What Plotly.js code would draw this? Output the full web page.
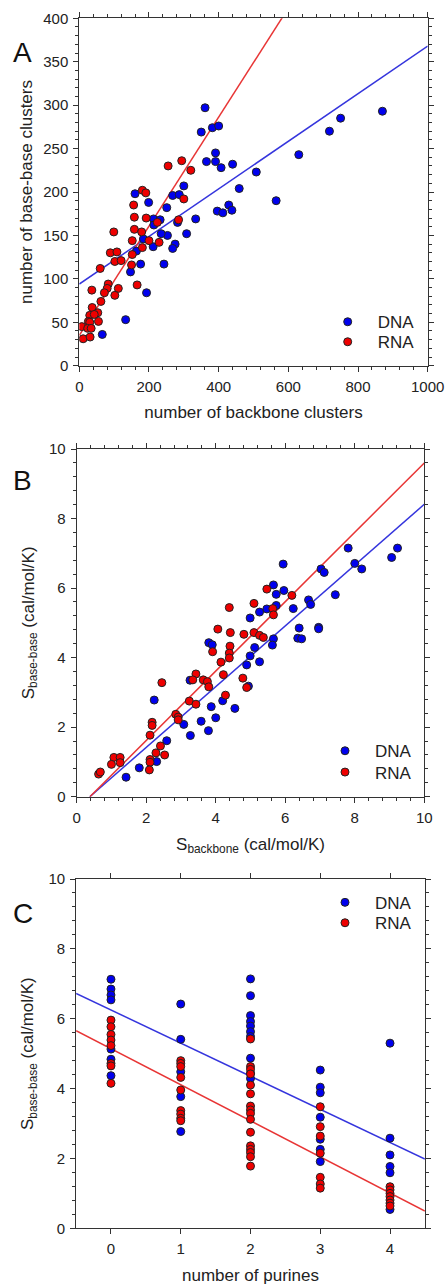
<!DOCTYPE html>
<html><head><meta charset="utf-8">
<script src="https://cdn.plot.ly/plotly-3.0.1.min.js"></script>
<style>html,body{margin:0;padding:0;background:#fff}</style>
</head><body><div id="chart" style="width:447px;height:1285px"></div>
<script>
// ---------- Panel A: number of backbone clusters vs base-base clusters ----------
const dnaA_x = [361,350,382,400,870,718,750,630,391,365,391,407,440,508,459,565,300,160,199,268,287,251,213,232,214,282,334,308,253,235,184,275,268,212,164,176,243,147,193,133,66,396,412,429,438];
const dnaA_y = [297,269,274,276,293,270,285,243,245,235,235,228,232,223,204,190,207,198,188,196,197,182,169,168,162,165,169,152,150,152,146,140,135,137,132,117,117,108,84,53,36,178,176,185,179];
const rnaA_x = [255,294,320,181,191,156,158,192,300,158,179,224,285,152,200,229,99,181,89,108,102,120,152,150,60,166,112,83,80,102,72,36,62,37,30,53,43,55,26,30,7,24,34,11,31];
const rnaA_y = [230,236,225,202,199,185,171,170,192,157,154,165,168,144,144,142,154,136,130,131,120,121,128,116,112,93,89,94,89,81,84,87,74,67,58,61,59,51,51,50,45,43,43,31,33];
const fitA_DNA = [94, 0.274];   // [intercept, slope] of the fitted lines
const fitA_RNA = [35, 0.628];

// ---------- Panel B: S_backbone vs S_base-base ----------
const dnaB_x = [7.81,9.23,9.06,8.0,8.2,5.94,7.03,7.12,5.66,5.96,5.74,7.44,6.67,6.73,5.74,5.47,5.26,6.23,4.99,6.4,6.96,6.96,3.8,3.9,5.66,6.36,6.47,5.63,5.12,4.99,5.26,4.89,4.94,3.26,2.23,4.2,3.87,4.55,4.0,3.58,3.08,3.79,3.27,2.59,2.3,1.8,1.42];
const dnaB_y = [7.15,7.15,6.88,6.71,6.55,6.69,6.55,6.45,6.09,5.93,5.82,5.81,5.66,5.53,5.5,5.4,5.31,5.41,5.14,4.85,4.87,4.83,4.43,4.37,4.54,4.56,4.54,4.36,4.29,4.05,3.88,3.79,3.18,3.35,2.78,2.76,2.59,2.54,2.27,2.17,2.08,1.9,1.76,1.61,1.01,0.83,0.56];
const rnaB_x = [5.47,6.19,5.1,4.39,5.64,5.66,4.06,4.42,4.81,5.1,5.26,5.37,4.41,4.39,4.39,3.91,4.15,4.22,3.43,3.64,3.76,3.8,3.34,4.78,4.89,4.28,3.24,3.43,2.45,2.85,2.92,2.92,2.17,2.17,2.11,2.41,2.28,2.53,2.11,2.11,2.09,1.07,1.25,1.25,1.0,0.63,0.68];
const rnaB_y = [5.97,5.79,5.56,5.44,5.41,5.23,4.82,4.72,4.67,4.72,4.64,4.58,4.33,4.13,3.99,4.17,3.87,3.51,3.53,3.36,3.31,3.16,3.36,3.41,3.14,2.92,2.75,2.66,3.28,2.37,2.29,2.21,2.14,2.05,1.77,1.46,1.26,1.2,1.07,0.99,0.77,1.13,1.13,0.98,0.93,0.65,0.71];
const fitB_DNA = [-0.33, 0.874];
const fitB_RNA = [-0.38, 0.998];

// ---------- Panel C: number of purines vs S_base-base ----------
const dnaC_x = [0,0,0,0,0,0,0, 1,1,1,1,1, 2,2,2,2,2,2,2,2,2,2, 3,3,3,3,3,3,3, 4,4,4,4,4,4];
const dnaC_y = [7.13,6.85,6.68,6.54,5.13,4.84,4.37, 6.42,5.41,4.48,3.77,2.77, 7.14,6.66,6.09,5.92,5.79,5.63,5.49,4.87,4.44,4.29, 4.53,4.04,3.88,3.18,2.55,2.26,1.91, 5.3,2.58,2.1,1.77,1.59,0.54];
const rnaC_x = [0,0,0,0,0,0,0,0, 1,1,1,1,1,1,1,1,1, 2,2,2,2,2,2,2,2,2,2,2,2,2,2,2,2, 3,3,3,3,3,3,3, 4,4,4,4,4,4,4];
const rnaC_y = [5.96,5.77,5.55,5.39,5.23,4.72,4.65,4.15, 4.8,4.72,4.63,4.32,3.96,3.37,3.27,3.15,3.08, 5.42,4.63,4.55,4.42,4.1,3.85,3.5,3.39,3.29,3.12,2.75,2.36,2.26,2.17,2.05,1.78, 3.48,2.91,2.64,2.15,1.46,1.27,1.15, 1.19,1.1,1.0,0.91,0.81,0.72,0.64];
const fitC_DNA = [6.25, -0.948];
const fitC_RNA = [5.14, -1.032];

const seriesNames = ['DNA','RNA'];
const panelLetters = ['A','B','C'];

const BLUE = '#0000ee', RED = '#ee0000';
const LBLUE = '#3535dd', LRED = '#e83535';
const FONT = 'Liberation Sans, Arial, sans-serif';
const W = 447, H = 1285;

function fitLine(fit, x0, x1, color, xa, ya) {
  return {x:[x0, x1], y:[fit[0]+fit[1]*x0, fit[0]+fit[1]*x1], mode:'lines', type:'scatter',
    line:{color:color, width:1.5}, showlegend:false, hoverinfo:'skip', xaxis:xa, yaxis:ya};
}
function pts(x, y, name, color, xa, ya, leg) {
  return {x:x, y:y, name:name, mode:'markers', type:'scatter', xaxis:xa, yaxis:ya, legend:leg,
    marker:{color:color, size:8, line:{color:'#222', width:1}}};
}

const traces = [
  fitLine(fitA_DNA, 0, 1000, LBLUE, 'x', 'y'),
  fitLine(fitA_RNA, 0, 1000, LRED, 'x', 'y'),
  pts(dnaA_x, dnaA_y, seriesNames[0], BLUE, 'x', 'y', 'legend'),
  pts(rnaA_x, rnaA_y, seriesNames[1], RED, 'x', 'y', 'legend2'),
  fitLine(fitB_DNA, -fitB_DNA[0]/fitB_DNA[1], 10, LBLUE, 'x2', 'y2'),
  fitLine(fitB_RNA, -fitB_RNA[0]/fitB_RNA[1], 10, LRED, 'x2', 'y2'),
  pts(dnaB_x, dnaB_y, seriesNames[0], BLUE, 'x2', 'y2', 'legend3'),
  pts(rnaB_x, rnaB_y, seriesNames[1], RED, 'x2', 'y2', 'legend4'),
  fitLine(fitC_DNA, -0.5, 4.5, LBLUE, 'x3', 'y3'),
  fitLine(fitC_RNA, -0.5, 4.5, LRED, 'x3', 'y3'),
  pts(dnaC_x, dnaC_y, seriesNames[0], BLUE, 'x3', 'y3', 'legend5'),
  pts(rnaC_x, rnaC_y, seriesNames[1], RED, 'x3', 'y3', 'legend6')
];

function px2x(p){ return p / W; }
function py2y(p){ return 1 - p / H; }

function axis(range, dtick, minor, domain, anchor, title, standoff) {
  const a = {range:range, domain:domain, anchor:anchor, dtick:dtick, tick0:0,
    showline:true, linecolor:'#333', linewidth:1, mirror:'allticks',
    ticks:'outside', ticklen:5, tickwidth:1, tickcolor:'#333', ticklabelstandoff:2,
    zeroline:false, showgrid:false, fixedrange:true, automargin:false,
    tickfont:{family:FONT, size:15, color:'#222'},
    title:{text:title, font:{family:FONT, size:17, color:'#222'}, standoff:standoff}};
  if (minor) a.minor = {dtick:minor, ticks:'outside', ticklen:3, tickwidth:1, tickcolor:'#333', showgrid:false};
  return a;
}

// one-entry legends: marker centre sits 30px right / 17.5px below the legend's top-left corner
function leg(cx, cy) {
  return {x:px2x(cx - 30), y:py2y(cy - 17.5), xanchor:'left', yanchor:'top', xref:'paper', yref:'paper',
    bgcolor:'rgba(0,0,0,0)', borderwidth:0, font:{family:FONT, size:17, color:'#222'},
    itemwidth:50, tracegroupgap:0};
}

function letter(t, cx, cy) {
  return {text:t, x:px2x(cx), y:py2y(cy), xref:'paper', yref:'paper', xanchor:'center', yanchor:'middle',
    showarrow:false, font:{family:FONT, size:28, color:'#111'}};
}

const layout = {
  width:W, height:H, margin:{l:0, r:0, t:0, b:0}, paper_bgcolor:'#fff', plot_bgcolor:'#fff',
  showlegend:true,
  xaxis:  axis([0,1000], 200, 40, [px2x(79.3), px2x(427.7)], 'y', 'number of backbone clusters', 12),
  yaxis:  axis([0,400], 50, 10, [py2y(365.7), py2y(18.3)], 'x', 'number of base-base clusters', 6),
  xaxis2: axis([0,10], 2, 0.4, [px2x(76.7), px2x(424.3)], 'y2', 'S<sub>backbone</sub> (cal/mol/K)', 12.5),
  yaxis2: axis([0,10], 2, 0.4, [py2y(796.7), py2y(449)], 'x2', 'S<sub>base-base</sub> (cal/mol/K)', 10),
  xaxis3: axis([-0.5,4.5], 1, null, [px2x(76.1), px2x(424.9)], 'y3', 'number of purines', 12),
  yaxis3: axis([0,10], 2, 0.4, [py2y(1228.3), py2y(879)], 'x3', 'S<sub>base-base</sub> (cal/mol/K)', 10),
  legend:  leg(347.7, 321.7),
  legend2: leg(347.7, 341.7),
  legend3: leg(345, 750.7),
  legend4: leg(345, 772),
  legend5: leg(345, 902.3),
  legend6: leg(345, 922.7),
  annotations: [
    letter(panelLetters[0], 22.5, 52.7),
    letter(panelLetters[1], 22.5, 480.7),
    letter(panelLetters[2], 22.5, 913.4)
  ]
};

Plotly.newPlot('chart', traces, layout, {displayModeBar:false, staticPlot:true});
</script>
</body></html>
